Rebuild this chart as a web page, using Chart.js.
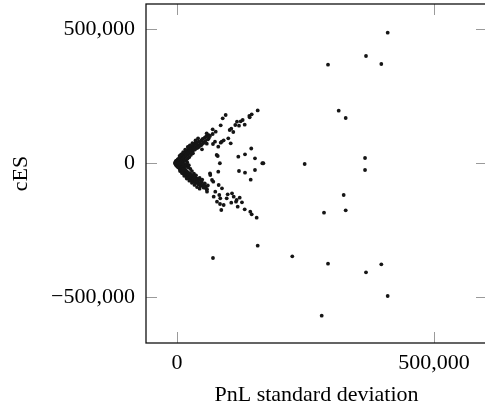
<!DOCTYPE html>
<html>
<head>
<meta charset="utf-8">
<script src="https://cdn.jsdelivr.net/npm/chart.js@4.4.0/dist/chart.umd.min.js"></script>
<style>
  html, body { margin: 0; padding: 0; background: #fff; overflow: hidden; }
  #grafico { display: block; }
</style>
</head>
<body>
<canvas id="grafico" width="490" height="410"></canvas>
<script>
// valores, en miles: [desviacion PnL, cES]
const UNIDAD = 1000;

const brazoSuperiorDenso = [[-4,0],[-3,4],[-2,8],[-1,6],[0,2],[0,10],[1,12],[2,5],[2,14],[3,9],[4,16],[4,6],[5,19],[5,11],[6,22],[7,14],[7,25],[8,18],[9,28],[9,12],[10,22],[11,30],[11,17],[12,26],[13,34],[13,20],[14,30],[15,37],[15,24],[16,33],[17,40],[18,28],[18,44],[19,36],[20,48],[21,32],[22,42],[23,52],[24,38],[25,46],[26,56],[27,42],[28,60],[29,50],[30,64],[31,46],[32,56],[33,68],[34,52],[35,72],[36,60],[38,76],[39,56],[40,66],[42,80],[43,62],[45,74],[47,84],[48,68],[50,90],[52,78],[54,95],[55,82],[57,100],[58,72],[60,88],[62,104]];

const brazoInferiorDenso = [[-3,-4],[-3,-2],[-2,-7],[-1,-10],[0,-5],[1,-14],[2,-9],[3,-17],[3,-4],[4,-12],[5,-21],[6,-15],[6,-25],[7,-8],[8,-20],[8,-29],[9,-16],[10,-33],[10,-24],[11,-13],[12,-37],[12,-28],[13,-20],[14,-41],[15,-32],[16,-24],[16,-45],[17,-36],[18,-49],[19,-30],[20,-41],[21,-53],[22,-36],[23,-46],[24,-57],[25,-40],[26,-50],[27,-61],[28,-44],[29,-55],[30,-66],[31,-48],[32,-60],[33,-70],[35,-54],[36,-64],[37,-75],[39,-58],[40,-70],[42,-80],[43,-64],[45,-76],[46,-86],[48,-70],[50,-82],[52,-92],[54,-76],[56,-88],[58,-98],[60,-84]];

// relleno del vertice (zona casi negra)
const vertice = [[4,0],[6,-3],[8,3],[9,7],[10,-2],[12,5],[13,-9],[14,-4],[15,11],[16,8],[17,-12],[18,-6],[19,14],[20,2],[21,18],[22,-16],[23,-8],[24,22],[26,-22],[27,30],[29,-30],[31,36],[33,-40],[35,50],[37,-46],[41,58],[44,-56],[46,66],[49,-62],[51,74],[5,26],[8,32],[12,40],[16,50],[21,60],[25,66],[30,74],[36,84],[41,92],[6,-30],[10,-38],[14,-48],[19,-58],[24,-66],[29,-74],[34,-82],[39,-90],[44,-96]];

const brazoSuperior = [[48.6,51.1],[57.8,110.8],[61.7,92.2],[64.2,100.7],[69.4,108.2],[69.4,125.7],[70,70.9],[73.9,79.5],[75.3,116.8],[80.3,60.8],[85,75.7],[85,140.7],[87,79.5],[88.9,166.8],[90.8,84.7],[94.7,179],[99.8,92.2],[102.5,123.1],[104.5,73.5],[105.6,128],[109.5,115.7],[113.4,141.8],[116.7,154.1],[120.6,139.2],[123.9,155.6],[127.8,160.4],[131.7,142.9],[140.7,175.4],[141.4,170.5],[145.3,181.7],[157,196]];

const centro = [[77.2,29.8],[79.2,26.1],[83.4,-1],[80.3,-32.5],[119.3,23.5],[132.3,32.5],[144.5,54],[151.7,17.5],[166,-1],[168,-1],[120.6,-29.8],[132.3,-36.2],[151.7,-26.1],[143.4,-62.3]];

const brazoInferior = [[51.9,-88.4],[58.4,-107.1],[57.8,-98.1],[64.8,-44.8],[64.2,-38.4],[68.1,-63.4],[70.6,-69.8],[81.1,-82.1],[87.5,-94.4],[74.5,-107.1],[71.4,-125.7],[82.3,-119.4],[84.2,-131.7],[77.8,-144.4],[83.7,-153],[90.8,-156.7],[96.7,-131.7],[98.6,-116.8],[107,-113],[110.3,-125.7],[105.6,-148.1],[114.8,-144.4],[116.1,-138],[122,-129.5],[126.4,-146.6],[86.2,-175.4],[118.1,-163],[131.7,-172.7],[142.6,-181.7],[145.3,-191.4],[155,-204]];

const atipicos = [[157,-308.6],[70,-354.4],[224.3,-348.1],[293.8,-375.7],[286,-185.4],[281.5,-569.7],[409.9,486.2],[367.7,399.2],[293.8,366.8],[397.5,369.4],[314.6,195.1],[328.2,167.9],[365.8,18.7],[248.4,-3.7],[365.8,-26.1],[324.3,-119.4],[328.2,-176.5],[397.5,-378],[367.7,-407.8],[409.9,-496.2]];

const ticksX = [0, 500000];
const ticksY = [-500000, 0, 500000];
const tituloX = 'PnL standard deviation';
const tituloY = 'cES';

const puntos = [brazoSuperiorDenso, brazoInferiorDenso, vertice, brazoSuperior, centro, brazoInferior, atipicos]
  .flat()
  .map(p => ({ x: p[0] * UNIDAD, y: p[1] * UNIDAD }));

const fuente = { family: "'Liberation Serif', 'Times New Roman', serif", size: 22 };

// formato 500,000 con signo menos largo
function formato(v) {
  const s = Math.abs(v).toLocaleString('en-US');
  return v < 0 ? '\u2212' + s : s;
}

// marco negro y ticks grises hacia adentro (estilo pgfplots)
const marco = {
  id: 'marco',
  beforeDatasetsDraw(chart) {
    const { ctx, chartArea: a, scales: { x, y } } = chart;
    ctx.save();
    ctx.strokeStyle = '#9a9a9a';
    ctx.lineWidth = 1;
    ctx.beginPath();
    ticksX.forEach(v => {
      const px = Math.round(x.getPixelForValue(v)) + 0.5;
      ctx.moveTo(px, a.bottom); ctx.lineTo(px, a.bottom - 11);
      ctx.moveTo(px, a.top); ctx.lineTo(px, a.top + 11);
    });
    ticksY.forEach(v => {
      const py = Math.round(y.getPixelForValue(v)) + 0.5;
      ctx.moveTo(a.left, py); ctx.lineTo(a.left + 11, py);
      ctx.moveTo(a.right, py); ctx.lineTo(a.right - 11, py);
    });
    ctx.stroke();
    ctx.restore();
  },
  afterDatasetsDraw(chart) {
    const { ctx, chartArea: a } = chart;
    ctx.save();
    ctx.strokeStyle = '#111';
    ctx.lineWidth = 1.3;
    ctx.strokeRect(a.left, a.top, a.right - a.left, a.bottom - a.top);
    ctx.restore();
  }
};

const ctx = document.getElementById('grafico').getContext('2d');
new Chart(ctx, {
  type: 'scatter',
  data: {
    datasets: [{
      data: puntos,
      backgroundColor: '#151515',
      borderWidth: 0,
      pointRadius: 1.9,
      pointHoverRadius: 1.9
    }]
  },
  options: {
    responsive: false,
    animation: false,
    layout: { padding: { top: 4, right: 3, left: 0, bottom: 0 } },
    plugins: { legend: { display: false }, tooltip: { enabled: false } },
    scales: {
      x: {
        type: 'linear',
        min: -60300,
        max: 603100,
        afterBuildTicks: s => { s.ticks = ticksX.map(v => ({ value: v })); },
        afterFit: s => { s.height = 67; s.paddingLeft = 0; s.paddingRight = 0; },
        grid: { display: false, drawTicks: false },
        border: { display: false },
        ticks: { font: fuente, color: '#000', padding: 7, maxRotation: 0, callback: v => formato(v) },
        title: { display: true, text: tituloX, font: fuente, color: '#000', padding: { top: 0, bottom: 2 } }
      },
      y: {
        type: 'linear',
        min: -671600,
        max: 593200,
        afterBuildTicks: s => { s.ticks = ticksY.map(v => ({ value: v })); },
        afterFit: s => { s.width = 146; s.paddingTop = 0; s.paddingBottom = 0; },
        grid: { display: false, drawTicks: false },
        border: { display: false },
        ticks: { font: fuente, color: '#000', padding: 11, callback: v => formato(v) },
        title: { display: true, text: tituloY, font: fuente, color: '#000', padding: { top: 8, bottom: 0 } }
      }
    }
  },
  plugins: [marco]
});
</script>
</body>
</html>
